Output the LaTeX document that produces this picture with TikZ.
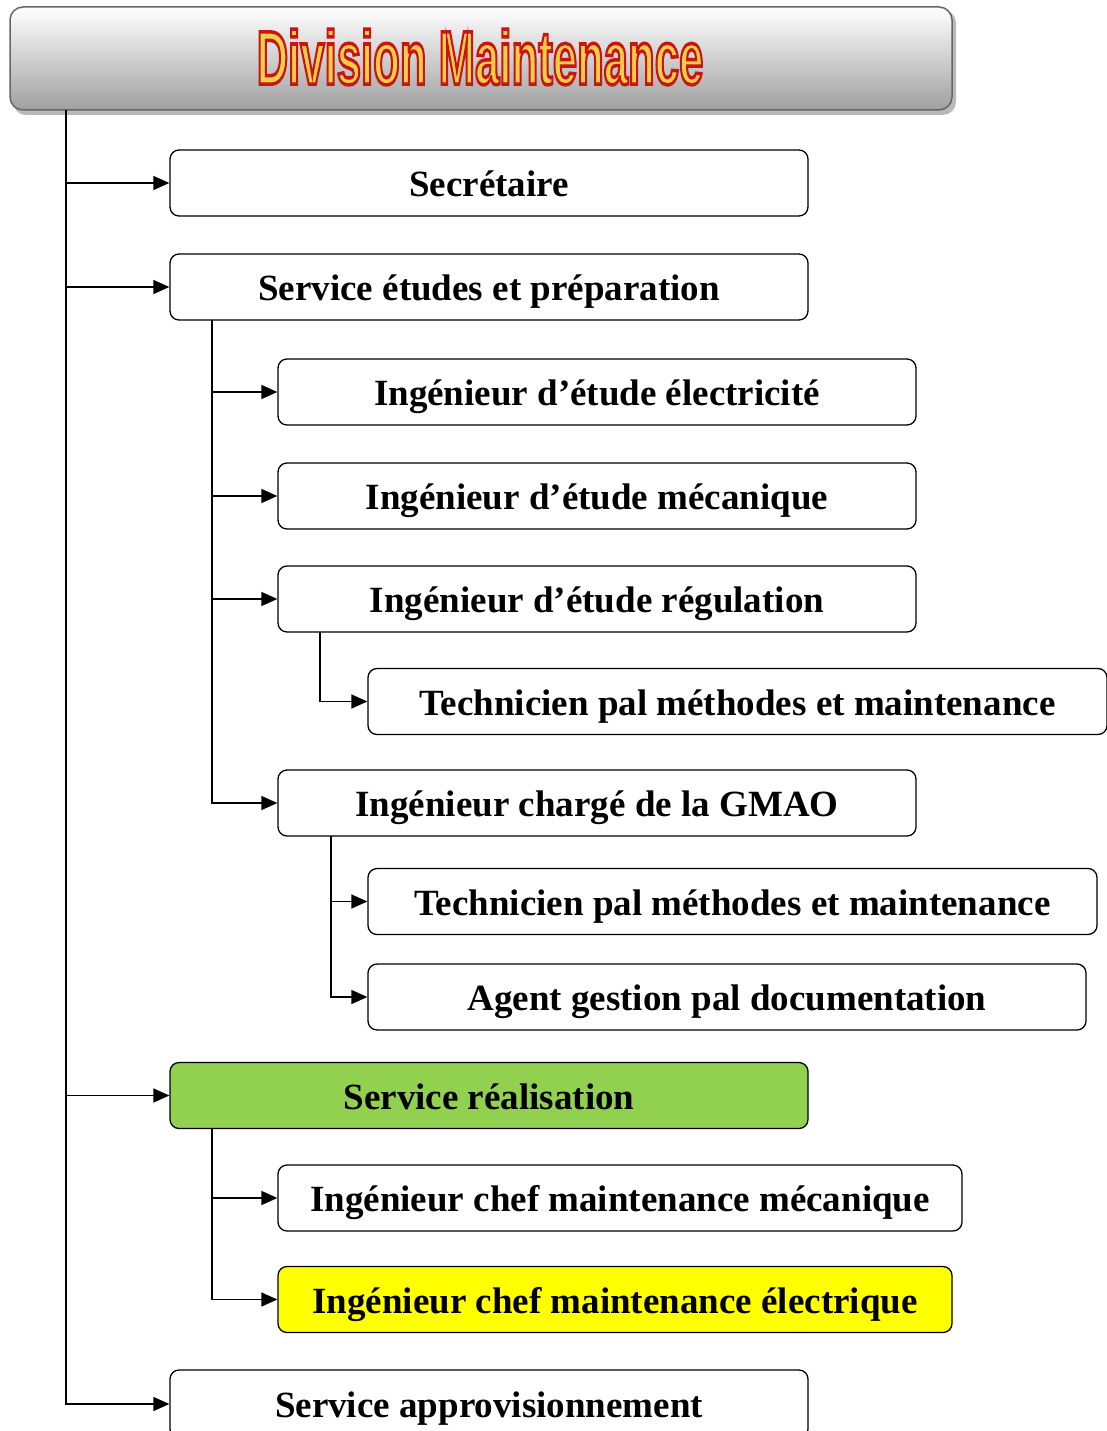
\documentclass[tikz,border=0pt]{standalone}
\usepackage{fontspec}
\setmainfont{Liberation Serif}
\newfontfamily\titlefont{Liberation Sans}
\usetikzlibrary{arrows.meta}
\definecolor{titleyellow}{RGB}{247,204,70}
\definecolor{realgreen}{RGB}{146,208,80}
\definecolor{hiyellow}{RGB}{255,255,0}
% outlined heading text: yellow fill, red stroke (text render mode 2)
\newcommand{\titletext}[1]{\titlefont\bfseries\fontsize{76}{76}\selectfont
  \scalebox{0.575}[1]{\color{titleyellow}%
  \special{pdf:literal direct q 0.78 0.08 0.08 RG 3.5 w 2 Tr}#1\special{pdf:literal direct 0 Tr Q}}}
\begin{document}
\begin{tikzpicture}[x=1pt,y=-1pt,
  box/.style={draw=black, line width=1.3pt, rounded corners=9pt, fill=white,
    minimum height=66pt, inner sep=0pt, align=center,
    text height=30pt, text depth=3pt,
    font=\bfseries\fontsize{37}{40}\selectfont},
  link/.style={draw=black, line width=1.5pt, -{Triangle[length=16pt,width=14pt]}}]
\useasboundingbox (0,0) rectangle (1107,1431);

% heading box with its shadow and grey gradient
\fill[gray!55, rounded corners=13pt] (13,10) rectangle (956,115);
\shade[top color=white, bottom color=gray!75, draw=gray!80!black, line width=1.5pt,
  rounded corners=13pt] (10,7) rectangle (952,110);
\node[inner sep=0pt] (title) at (480,57) {\titletext{Division Maintenance}};

% first level
\node[box, minimum width=638pt] (sec) at (489,183) {Secrétaire};
\node[box, minimum width=638pt] (etu) at (489,287) {Service études et préparation};
\node[box, minimum width=638pt, fill=realgreen] (rea) at (489,1095.5) {Service réalisation};
\node[box, minimum width=638pt, minimum height=68pt] (app) at (489,1404) {Service approvisionnement};

% studies service
\node[box, minimum width=638pt] (ele) at (597,392) {Ingénieur d’étude électricité};
\node[box, minimum width=638pt] (mec) at (597,496) {Ingénieur d’étude mécanique};
\node[box, minimum width=638pt] (reg) at (597,599) {Ingénieur d’étude régulation};
\node[box, minimum width=739pt] (tec1) at (737.5,701.5) {Technicien pal méthodes et maintenance};
\node[box, minimum width=638pt] (gmao) at (597,803) {Ingénieur chargé de la GMAO};
\node[box, minimum width=729pt] (tec2) at (732.5,901.5) {Technicien pal méthodes et maintenance};
\node[box, minimum width=718pt] (doc) at (727,997) {Agent gestion pal documentation};

% works service
\node[box, minimum width=684pt] (chm) at (620,1198) {Ingénieur chef maintenance mécanique};
\node[box, minimum width=674pt, fill=hiyellow] (che) at (615,1299.5) {Ingénieur chef maintenance électrique};

% branch origins
\coordinate (t0) at (66,110);
\coordinate (t1) at (212,320);
\coordinate (t2) at (320,632);
\coordinate (t3) at (331,836);
\coordinate (t4) at (212,1129);

% connectors
\draw[link] (t0) |- (sec.west);
\draw[link] (t0) |- (etu.west);
\draw[link] (t0) |- (rea.west);
\draw[link] (t0) |- (app.west);

\draw[link] (t1) |- (ele.west);
\draw[link] (t1) |- (mec.west);
\draw[link] (t1) |- (reg.west);
\draw[link] (t1) |- (gmao.west);

\draw[link] (t2) |- (tec1.west);

\draw[link] (t3) |- (tec2.west);
\draw[link] (t3) |- (doc.west);

\draw[link] (t4) |- (chm.west);
\draw[link] (t4) |- (che.west);
\end{tikzpicture}
\end{document}
